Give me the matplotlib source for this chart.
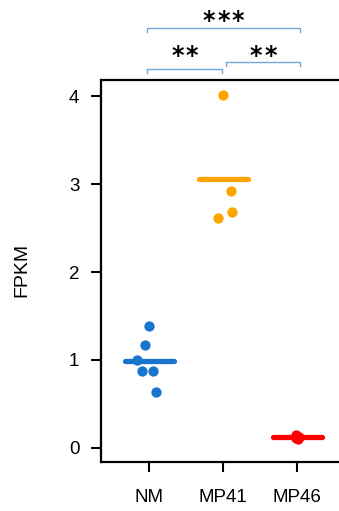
import matplotlib.pyplot as plt

plt.rcParams['font.family'] = ['Liberation Sans', 'DejaVu Sans']

# FPKM per sample
groups = ['NM', 'MP41', 'MP46']
nm_fpkm = [1.39, 1.17, 1.00, 0.875, 0.875, 0.64]
mp41_fpkm = [4.01, 2.92, 2.68, 2.61]
mp46_fpkm = [0.15, 0.13, 0.11, 0.10]
colors = ['#1874CD', '#FFA500', '#FF0000']

# significance brackets: (left group, right group, number of stars)
comparisons = [(0, 2, 3), (0, 1, 2), (1, 2, 2)]

# horizontal jitter for the dots
jitter = [[0.0, -0.054, -0.16, -0.095, 0.054, 0.095],
          [0.0, 0.108, 0.12, -0.07],
          [-0.02, 0.02, -0.01, 0.01]]


def main():
    fig = plt.figure(figsize=(3.39, 5.11), dpi=100)
    ax = fig.add_axes([0.298, 0.096, 0.735, 0.747])

    values = [nm_fpkm, mp41_fpkm, mp46_fpkm]
    for i, vals in enumerate(values):
        x = i + 1
        xs = [x + j for j in jitter[i]]
        ax.scatter(xs, vals, s=55, color=colors[i], zorder=3, linewidths=0)
        mean = sum(vals) / len(vals)
        ax.plot([x - 0.33, x + 0.33], [mean, mean], color=colors[i], lw=3.8,
                solid_capstyle='round', zorder=2)

    ax.set_xlim(0.351, 3.716)
    ax.set_ylim(-0.159, 4.18)
    ax.set_xticks([1, 2, 3])
    ax.set_xticklabels(groups)
    ax.set_yticks([0, 1, 2, 3, 4])
    ax.tick_params(axis='both', labelsize=13.5, length=7.5, width=1.5)
    ax.tick_params(axis='x', pad=12)
    ax.tick_params(axis='y', pad=8)
    for side in ['left', 'bottom', 'top', 'right']:
        ax.spines[side].set_linewidth(1.6)

    fig.text(22 / 339, 1 - 270 / 511, 'FPKM', rotation=90, fontsize=14,
             ha='center', va='center')

    # brackets above the plot, stars sit on a fixed row per tier
    levels = {(0, 2): 4.773, (0, 1): 4.307, (1, 2): 4.386}
    star_rows = {(0, 2): 4.774, (0, 1): 4.376, (1, 2): 4.376}
    for a, b, n_stars in comparisons:
        y = levels[(a, b)]
        x0 = a + 1 - 0.03
        x1 = b + 1 + 0.04 if b == 2 else b + 1 - 0.01
        if a == 1:
            x0 = a + 1 + 0.04
        ax.plot([x0, x0, x1, x1], [y - 0.045, y, y, y - 0.045],
                color='#6FA8DC', lw=1.0, clip_on=False)
        mid = (x0 + x1) / 2
        for k in range(n_stars):
            ax.text(mid + (k - (n_stars - 1) / 2) * 0.195, star_rows[(a, b)],
                    '*', ha='center', va='baseline', fontsize=17,
                    fontweight='bold', family='DejaVu Sans', clip_on=False)

    fig.savefig('out.png', dpi=100)


if __name__ == '__main__':
    main()
